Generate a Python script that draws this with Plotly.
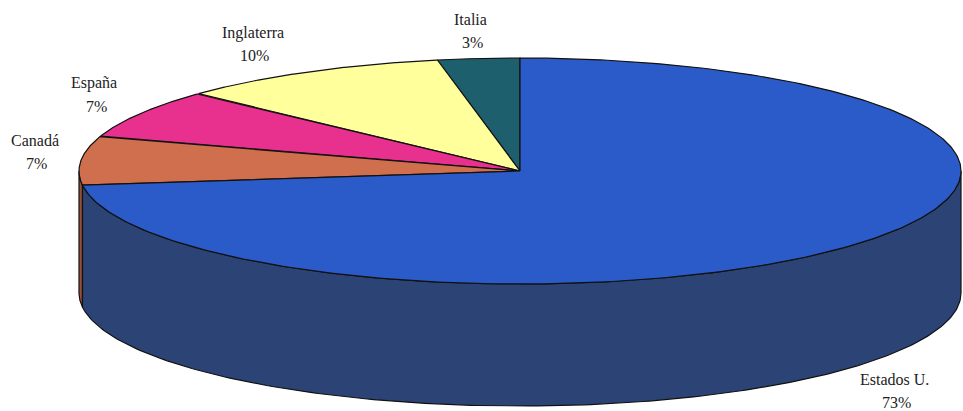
import numpy as np
import plotly.graph_objects as go

# ---- data ----
countries = ["Italia", "Inglaterra", "España", "Canadá", "Estados U."]
shares = [3, 10, 7, 7, 73]
pct_labels = ["3%", "10%", "7%", "7%", "73%"]

# ---- style ----
top_colors = ["#1E5F6E", "#FFFF9C", "#E8318E", "#CF6F4D", "#2B5BC8"]
side_colors = ["#164651", "#BDBD72", "#A8236A", "#98503A", "#2C4475"]
W, H = 963, 411
cx, cy = 520, 171          # pie centre (pixels)
ra, rb = 441, 113          # ellipse half-axes
depth = 122                # thickness of the pie
# label offsets from the slice mid-point on the rim (pixels)
label_offsets = [(-8, -28), (-55, -28), (-46, -19), (-46, -9), (44, 23)]

fig = go.Figure()

total = float(sum(shares))
bounds = np.concatenate([[0], np.cumsum(shares)]) / total * 360.0


def rim(t_deg, dz=0.0):
    t = np.radians(t_deg)
    return cx - ra * np.sin(t), cy - rb * np.cos(t) + dz


line = dict(color="#111111", width=1.2)

# side walls (only the front half, 90..270 deg, is visible)
for i, name in enumerate(countries):
    t1, t2 = max(bounds[i], 90.0), min(bounds[i + 1], 270.0)
    if t2 <= t1:
        continue
    ts = np.linspace(t1, t2, 200)
    xt, yt = rim(ts)
    xb, yb = rim(ts[::-1], depth)
    xs = np.concatenate([xt, xb, xt[:1]])
    ys = np.concatenate([yt, yb, yt[:1]])
    fig.add_trace(go.Scatter(x=xs, y=ys, mode="lines", fill="toself",
                             fillcolor=side_colors[i], line=line,
                             hoverinfo="skip", showlegend=False))

# top faces
for i, name in enumerate(countries):
    ts = np.linspace(bounds[i], bounds[i + 1], 300)
    xa, ya = rim(ts)
    xs = np.concatenate([[cx], xa, [cx]])
    ys = np.concatenate([[cy], ya, [cy]])
    fig.add_trace(go.Scatter(x=xs, y=ys, mode="lines", fill="toself",
                             fillcolor=top_colors[i], line=line,
                             name=name, hoverinfo="name", showlegend=False))

# labels
font = dict(family="Liberation Serif, Times New Roman, serif", size=16, color="#222222")
for i, name in enumerate(countries):
    mid = (bounds[i] + bounds[i + 1]) / 2.0
    dz = depth if 90 < mid < 270 else 0.0
    x0, y0 = rim(mid, dz)
    dx, dy = label_offsets[i]
    fig.add_annotation(x=x0 + dx, y=y0 + dy - 11, text=name, showarrow=False,
                       font=font, xanchor="center", yanchor="middle")
    fig.add_annotation(x=x0 + dx + 2, y=y0 + dy + 12, text=pct_labels[i], showarrow=False,
                       font=font, xanchor="center", yanchor="middle")

fig.update_layout(
    width=W, height=H,
    margin=dict(l=0, r=0, t=0, b=0),
    paper_bgcolor="white", plot_bgcolor="white",
    xaxis=dict(range=[0, W], visible=False, fixedrange=True),
    yaxis=dict(range=[H, 0], visible=False, fixedrange=True),
)

fig.write_html("out.html", config={"displayModeBar": False},
               post_script="document.body.style.margin='0';document.body.style.overflow='hidden';")
